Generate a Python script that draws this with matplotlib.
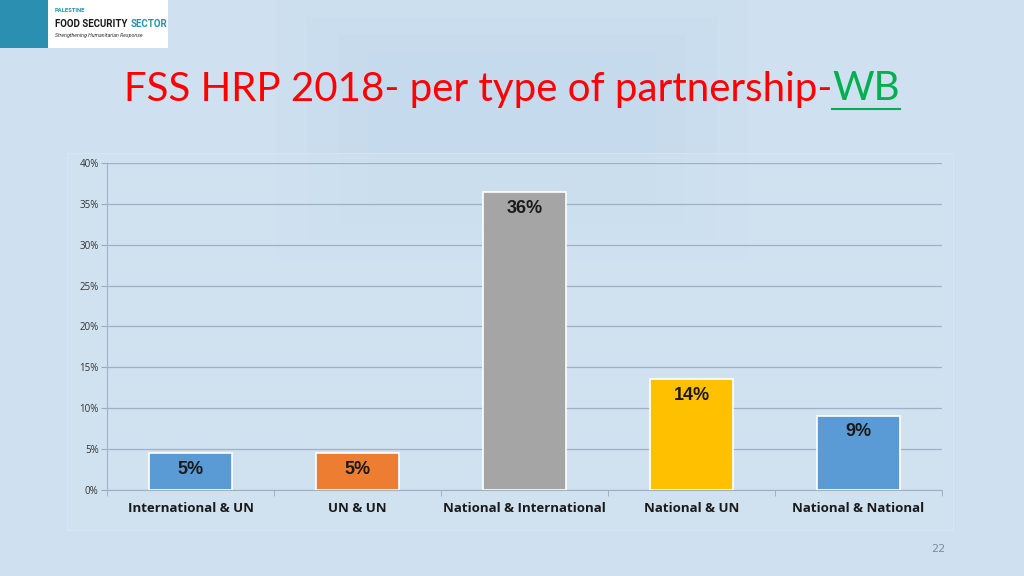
import matplotlib
matplotlib.use("Agg")
import matplotlib.pyplot as plt
from matplotlib.patches import Rectangle
import numpy as np

# ---------------- data ----------------
categories = ["International & UN", "UN & UN", "National & International",
              "National & UN", "National & National"]
shares = [4.5, 4.5, 36.4, 13.6, 9.1]
bar_colors = ["#5B9BD5", "#ED7D31", "#A5A5A5", "#FFC000", "#5B9BD5"]
y_ticks = [0, 5, 10, 15, 20, 25, 30, 35, 40]

BG = "#cfe1f0"

fig = plt.figure(figsize=(10.24, 5.76), dpi=100, facecolor=BG)
W, H = 1024.0, 576.0

# soft darker glow behind the title / chart like the slide background
for i, a in enumerate([0.12, 0.12, 0.12, 0.12]):
    pad = 0.03 * i
    fig.patches.append(Rectangle((0.27 + pad, 0.55 + pad), 0.46 - 2 * pad, 0.45 - 2 * pad,
                                 transform=fig.transFigure, facecolor="#b9d4ec",
                                 edgecolor="none", alpha=a, zorder=-3))
# chart area frame
fig.patches.append(Rectangle((0.065, 0.08), 0.866, 0.655, transform=fig.transFigure,
                             facecolor="#d3e4f2", edgecolor="#e2edf6", lw=0.8, alpha=0.45, zorder=-2))

# ---------------- logo ----------------
fig.patches.append(Rectangle((0.0, 1 - 48 / H), 168 / W, 48 / H, transform=fig.transFigure,
                             facecolor="white", edgecolor="none", zorder=1))
fig.patches.append(Rectangle((0.0, 1 - 48 / H), 48 / W, 48 / H, transform=fig.transFigure,
                             facecolor="#2a8fb0", edgecolor="none", zorder=2))
fig.text(55 / W, 1 - 11 / H, "PALESTINE", fontsize=4.2, color="#2a8fb0",
         fontweight="bold", va="center", family="Roboto")
t_food = fig.text(55 / W, 1 - 24 / H, "FOOD SECURITY", fontsize=7, color="#1a1a1a",
                  fontweight="bold", va="center", family="Roboto")
fig.canvas.draw()
fb = t_food.get_window_extent()
fig.text((fb.x1 + 3) / W, 1 - 24 / H, "SECTOR", fontsize=7, color="#2a8fb0",
         fontweight="bold", va="center", family="Roboto")
fig.text(55 / W, 1 - 35 / H, "Strengthening Humanitarian Response", fontsize=3.8,
         color="#333333", style="italic", va="center", family="Roboto")

# ---------------- title ----------------
title_y = 1 - 89 / H
t_red = fig.text(0, title_y, "FSS HRP 2018- per type of partnership-",
                 fontsize=29, color="#ff0000", va="center", ha="left", family="Lato")
t_wb = fig.text(0, title_y, "WB", fontsize=29, color="#00b050",
                va="center", ha="left", family="Lato")
fig.canvas.draw()
br = t_red.get_window_extent()
bw = t_wb.get_window_extent()
start = (W - (br.width + bw.width)) / 2
t_red.set_x(start / W)
t_wb.set_x((start + br.width) / W)
fig.lines.append(plt.Line2D([(start + br.width) / W, (start + br.width + bw.width) / W],
                            [(bw.y0 - 1) / H] * 2,
                            transform=fig.transFigure, color="#00b050", lw=1.5))

# ---------------- bar chart ----------------
ax = fig.add_axes([107 / W, 86 / H, 835 / W, 327 / H])
ax.set_facecolor("none")
x = np.arange(len(categories))
bars = ax.bar(x, shares, width=0.5, color=bar_colors, edgecolor="white", linewidth=1.2, zorder=3)

for b, v in zip(bars, shares):
    ax.text(b.get_x() + b.get_width() / 2, v - 2.0, "%d%%" % int(v + 0.5),
            ha="center", va="center", fontsize=13, fontweight="bold", color="#1a1a1a",
            family=["Liberation Sans Narrow", "Liberation Sans"], zorder=4)

ax.set_xlim(-0.5, len(categories) - 0.5)
ax.set_ylim(0, 40)
ax.set_yticks(y_ticks)
ax.set_yticklabels(["%d%%" % t for t in y_ticks], fontsize=7, color="#333333", family="Open Sans")
ax.set_xticks(x)
ax.set_xticklabels(categories, fontsize=9.5, fontweight="bold", color="#1a1a1a", family="Open Sans")
ax.set_xticks(np.arange(-0.5, len(categories)), minor=True)
ax.tick_params(axis="x", which="major", length=0, pad=9)
ax.tick_params(axis="x", which="minor", length=4, color="#9aaabb", direction="out")
ax.tick_params(axis="y", length=4, color="#9aaabb", pad=2)

ax.grid(axis="y", color="#9fb1c2", lw=0.9, zorder=0)
ax.set_axisbelow(True)
for s in ["top", "right"]:
    ax.spines[s].set_visible(False)
ax.spines["left"].set_color("#9fb1c2")
ax.spines["bottom"].set_color("#9fb1c2")

# page number
fig.text(938 / W, 1 - 549 / H, "22", fontsize=8, color="#7f8c99", ha="center", va="center")

fig.savefig("out.png", dpi=100, facecolor=BG)
